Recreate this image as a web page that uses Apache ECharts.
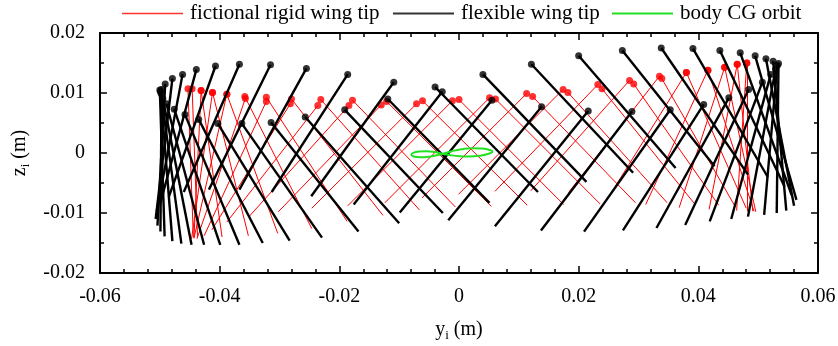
<!DOCTYPE html>
<html>
<head>
<meta charset="utf-8">
<script src="https://cdn.jsdelivr.net/npm/echarts@6/dist/echarts.min.js"></script>
<style>
  html, body { margin: 0; padding: 0; background: #fff; }
  #chart { width: 838px; height: 346px; }
</style>
</head>
<body>
<div id="chart"></div>
<script>
// ---- axis ticks ----
const yTicks = [-0.06, -0.04, -0.02, 0, 0.02, 0.04, 0.06];
const zTicks = [-0.02, -0.01, 0, 0.01, 0.02];

// ---- flexible wing tip: leading edge (dot) and trailing edge, [y, z] in m ----
const flexLeadingEdge = [
  [-0.0497, 0.0106], [-0.0491, 0.0115], [-0.0479, 0.0124], [-0.0462, 0.0131],
  [-0.0439, 0.0139], [-0.0407, 0.0145], [-0.0367, 0.0148], [-0.0315, 0.0147],
  [-0.0255, 0.0141], [-0.0186, 0.0131], [-0.0109, 0.0118], [-0.0028, 0.0102],
  [0.0055, 0.0088], [0.0138, 0.0077], [0.0216, 0.0070], [0.0289, 0.0069],
  [0.0353, 0.0072], [0.0409, 0.0081], [0.0451, 0.0092], [0.0484, 0.0106],
  [0.0507, 0.0118], [0.0521, 0.0131], [0.0529, 0.0139], [0.0532, 0.0146],
  [0.0534, 0.0149], [0.0525, 0.0153], [0.0513, 0.0157], [0.0495, 0.0162],
  [0.0470, 0.0167], [0.0436, 0.0171], [0.0391, 0.0174], [0.0338, 0.0175],
  [0.0273, 0.0171], [0.0200, 0.0162], [0.0121, 0.0148], [0.0040, 0.0131],
  [-0.0040, 0.0110], [-0.0119, 0.0090], [-0.0191, 0.0072], [-0.0257, 0.0060],
  [-0.0314, 0.0051], [-0.0363, 0.0049], [-0.0403, 0.0049], [-0.0435, 0.0056],
  [-0.0458, 0.0064], [-0.0476, 0.0073], [-0.0489, 0.0082], [-0.0495, 0.0091],
  [-0.0498, 0.0099], [-0.0499, 0.0103], [-0.0500, 0.0105]
];
const flexTrailingEdge = [
  [-0.0499, -0.0131], [-0.0504, -0.0121], [-0.0507, -0.0110], [-0.0505, -0.0096],
  [-0.0499, -0.0083], [-0.0485, -0.0073], [-0.0460, -0.0065], [-0.0418, -0.0061],
  [-0.0367, -0.0061], [-0.0313, -0.0065], [-0.0247, -0.0072], [-0.0176, -0.0086],
  [-0.0099, -0.0099], [-0.0018, -0.0112], [0.0060, -0.0122], [0.0137, -0.0129],
  [0.0209, -0.0131], [0.0274, -0.0129], [0.0330, -0.0125], [0.0378, -0.0120],
  [0.0419, -0.0114], [0.0455, -0.0110], [0.0483, -0.0106], [0.0510, -0.0103],
  [0.0531, -0.0100], [0.0547, -0.0096], [0.0560, -0.0088], [0.0564, -0.0078],
  [0.0556, -0.0070], [0.0544, -0.0056], [0.0516, -0.0040], [0.0483, -0.0036],
  [0.0427, -0.0022], [0.0362, -0.0025], [0.0291, -0.0033], [0.0213, -0.0048],
  [0.0132, -0.0065], [0.0051, -0.0083], [-0.0027, -0.0100], [-0.0100, -0.0117],
  [-0.0168, -0.0131], [-0.0229, -0.0141], [-0.0283, -0.0146], [-0.0328, -0.0150],
  [-0.0367, -0.0153], [-0.0399, -0.0153], [-0.0426, -0.0153], [-0.0447, -0.0153],
  [-0.0464, -0.0151], [-0.0479, -0.0147], [-0.0492, -0.0139]
];

// ---- fictional rigid wing tip: leading edge (dot) and trailing edge ----
const rigidLeadingEdge = [
  [-0.0453, 0.0107], [-0.0431, 0.0104], [-0.0412, 0.0101], [-0.0388, 0.0098],
  [-0.0357, 0.0091], [-0.0322, 0.0086], [-0.0282, 0.0082], [-0.0236, 0.0079],
  [-0.0184, 0.0079], [-0.0130, 0.0080], [-0.0071, 0.0082], [-0.0011, 0.0087],
  [0.0051, 0.0092], [0.0113, 0.0099], [0.0174, 0.0106], [0.0232, 0.0114],
  [0.0285, 0.0121], [0.0335, 0.0128], [0.0380, 0.0134], [0.0416, 0.0138],
  [0.0444, 0.0143], [0.0465, 0.0148], [0.0481, 0.0150],
  [-0.0446, 0.0107], [-0.0431, 0.0104], [-0.0412, 0.0101], [-0.0388, 0.0098],
  [-0.0358, 0.0094], [-0.0322, 0.0093], [-0.0280, 0.0090], [-0.0231, 0.0089],
  [-0.0178, 0.0088], [-0.0121, 0.0086], [-0.0061, 0.0087], [0.0000, 0.0089],
  [0.0061, 0.0090], [0.0123, 0.0094], [0.0182, 0.0101], [0.0239, 0.0107],
  [0.0292, 0.0115], [0.0339, 0.0124], [0.0380, 0.0134], [0.0416, 0.0138],
  [0.0444, 0.0143], [0.0465, 0.0148], [0.0481, 0.0150]
];
const rigidTrailingEdge = [
  [-0.0444, -0.0140], [-0.0443, -0.0142], [-0.0447, -0.0143], [-0.0443, -0.0142],
  [-0.0438, -0.0143], [-0.0426, -0.0138], [-0.0413, -0.0128], [-0.0388, -0.0115],
  [-0.0350, -0.0105], [-0.0302, -0.0098], [-0.0246, -0.0092], [-0.0186, -0.0088],
  [-0.0124, -0.0083], [-0.0062, -0.0075], [-0.0001, -0.0069], [0.0060, -0.0064],
  [0.0120, -0.0063], [0.0183, -0.0066], [0.0249, -0.0075], [0.0312, -0.0086],
  [0.0368, -0.0091], [0.0418, -0.0094], [0.0464, -0.0096],
  [-0.0437, -0.0140], [-0.0396, -0.0140], [-0.0352, -0.0138], [-0.0303, -0.0134],
  [-0.0246, -0.0126], [-0.0187, -0.0114], [-0.0127, -0.0104], [-0.0066, -0.0095],
  [-0.0006, -0.0090], [0.0054, -0.0089], [0.0114, -0.0087], [0.0175, -0.0086],
  [0.0236, -0.0085], [0.0295, -0.0083], [0.0348, -0.0083], [0.0394, -0.0085],
  [0.0434, -0.0087], [0.0462, -0.0090], [0.0480, -0.0092], [0.0493, -0.0097],
  [0.0496, -0.0098], [0.0491, -0.0097], [0.0481, -0.0097]
];

// ---- body CG orbit ----
const cgOrbit = [
  [-0.00272, -0.00012], [-0.00122, 0.00030], [0.00045, 0.00063], [0.00212, 0.00080],
  [0.00379, 0.00075], [0.00496, 0.00055], [0.00558, 0.00027], [0.00496, -0.00012],
  [0.00346, -0.00045], [0.00179, -0.00058], [0.00012, -0.00053], [-0.00139, -0.00037],
  [-0.00272, -0.00012], [-0.00406, 0.00017], [-0.00540, 0.00030], [-0.00674, 0.00025],
  [-0.00766, 0.00002], [-0.00796, -0.00028], [-0.00757, -0.00057], [-0.00657, -0.00070],
  [-0.00523, -0.00065], [-0.00389, -0.00042], [-0.00272, -0.00012]
];

const FONT = 'Liberation Serif';
const RED = '#ff0000';
const BLACK = '#000000';
const GREEN = '#22e022';

// one segment per snapshot: leading edge -> trailing edge
function segments(lead, trail) {
  return lead.map((p, i) => ({ coords: [p, trail[i]] }));
}

const tickStyle = { color: '#000', width: 1.5 };

// boxed frame: every side gets an axis line with inward ticks
function frameAxis(extra, minorSplit) {
  return Object.assign({
    type: 'value',
    axisLine: { show: true, onZero: false, lineStyle: { color: '#000', width: 2 } },
    axisTick: { show: true, inside: true, length: 7, lineStyle: tickStyle },
    minorTick: { show: true, splitNumber: minorSplit, length: 4, lineStyle: tickStyle },
    splitLine: { show: false },
    minorSplitLine: { show: false },
    axisLabel: { show: false }
  }, extra);
}

const subRich = {
  a: { fontFamily: FONT, fontSize: 20, color: '#000', lineHeight: 24 },
  b: { fontFamily: FONT, fontSize: 13, color: '#000', lineHeight: 24, padding: [12, 0, 0, 0] }
};

function legendBlock(name, color, left, thick) {
  return {
    data: [{ name: name, icon: 'rect', itemStyle: { color: color, borderWidth: 0 } }],
    left: left, top: 3, padding: 0,
    itemWidth: 61, itemHeight: thick, itemGap: 0,
    selectedMode: false,
    textStyle: { fontFamily: FONT, fontSize: 21, color: '#000', padding: [0, 0, 0, 2] }
  };
}

const chart = echarts.init(document.getElementById('chart'), null, { renderer: 'canvas' });

chart.setOption({
  animation: false,
  backgroundColor: '#fff',
  grid: { left: 100, right: 20, top: 33, bottom: 73, outerBoundsMode: 'none' },
  legend: [
    legendBlock('fictional rigid wing tip', RED, 122, 1.3),
    legendBlock('flexible wing tip', BLACK, 393, 2),
    legendBlock('body CG orbit', GREEN, 612, 2)
  ],
  xAxis: [
    frameAxis({
      position: 'bottom',
      min: yTicks[0], max: yTicks[yTicks.length - 1], interval: 0.02,
      axisLabel: { show: true, color: '#000', fontFamily: FONT, fontSize: 20, margin: 14 },
      name: '{a|y}{b|i}{a| (m)}',
      nameLocation: 'middle',
      nameGap: 45,
      nameTextStyle: { color: '#000', rich: subRich }
    }, 5),
    frameAxis({
      position: 'top',
      min: yTicks[0], max: yTicks[yTicks.length - 1], interval: 0.02
    }, 5)
  ],
  yAxis: [
    frameAxis({
      position: 'left',
      min: zTicks[0], max: zTicks[zTicks.length - 1], interval: 0.01,
      axisLabel: { show: true, color: '#000', fontFamily: FONT, fontSize: 20, margin: 15 },
      name: '{a|z}{b|i}{a| (m)}',
      nameLocation: 'middle',
      nameRotate: 90,
      nameGap: 68,
      nameTextStyle: { color: '#000', rich: subRich }
    }, 2),
    frameAxis({
      position: 'right',
      min: zTicks[0], max: zTicks[zTicks.length - 1], interval: 0.01
    }, 2)
  ],
  series: [
    // scatter first so the legend takes its fill colour
    {
      name: 'fictional rigid wing tip',
      type: 'scatter',
      xAxisIndex: 0, yAxisIndex: 0,
      data: rigidLeadingEdge,
      symbol: 'circle', symbolSize: 7,
      itemStyle: { color: RED },
      silent: true, z: 3
    },
    {
      name: 'fictional rigid wing tip',
      type: 'lines',
      coordinateSystem: 'cartesian2d',
      xAxisIndex: 0, yAxisIndex: 0,
      data: segments(rigidLeadingEdge, rigidTrailingEdge),
      lineStyle: { color: RED, width: 1, opacity: 1 },
      silent: true, z: 2
    },
    {
      name: 'flexible wing tip',
      type: 'scatter',
      xAxisIndex: 0, yAxisIndex: 0,
      data: flexLeadingEdge,
      symbol: 'circle', symbolSize: 7,
      itemStyle: { color: BLACK },
      silent: true, z: 5
    },
    {
      name: 'flexible wing tip',
      type: 'lines',
      coordinateSystem: 'cartesian2d',
      xAxisIndex: 0, yAxisIndex: 0,
      data: segments(flexLeadingEdge, flexTrailingEdge),
      lineStyle: { color: BLACK, width: 2.4, opacity: 1 },
      silent: true, z: 4
    },
    {
      name: 'body CG orbit',
      type: 'line',
      xAxisIndex: 0, yAxisIndex: 0,
      data: cgOrbit,
      smooth: true,
      showSymbol: false,
      lineStyle: { color: GREEN, width: 2 },
      silent: true, z: 6
    }
  ]
});
</script>
</body>
</html>
